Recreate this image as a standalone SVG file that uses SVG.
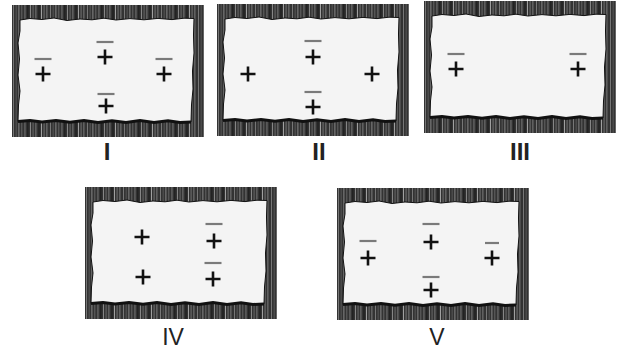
<svg xmlns="http://www.w3.org/2000/svg" width="624" height="355" viewBox="0 0 624 355">
<style>
.pl{stroke:#111;stroke-width:2.6;fill:none}
.mi{stroke:#7a7a7a;stroke-width:2.2}
.lb{font-family:"Liberation Sans",Arial,sans-serif;fill:#222;text-anchor:middle}
</style>
<defs>
<pattern id="wood" patternUnits="userSpaceOnUse" width="37" height="140">
<rect width="37" height="140" fill="#333"/>
<rect x="1" width="1" height="140" fill="#777"/>
<rect x="3.5" width="1.5" height="140" fill="#4a4a4a"/>
<rect x="6.5" width="0.8" height="140" fill="#999"/>
<rect x="9" width="1.4" height="140" fill="#555"/>
<rect x="12.5" width="0.9" height="140" fill="#7c7c7c"/>
<rect x="15" width="1.6" height="140" fill="#222"/>
<rect x="18" width="0.7" height="140" fill="#aaa"/>
<rect x="20.5" width="1.2" height="140" fill="#5e5e5e"/>
<rect x="23.5" width="0.8" height="140" fill="#888"/>
<rect x="26" width="2" height="140" fill="#252525"/>
<rect x="29" width="0.7" height="140" fill="#d0d0d0"/>
<rect x="31.5" width="1.2" height="140" fill="#666"/>
<rect x="34.5" width="0.8" height="140" fill="#8c8c8c"/>
</pattern>
<g id="board">
<rect x="0" y="0" width="192" height="132" fill="url(#wood)"/>
<path d="M8,15 L18,13.5 L30,14.5 L42,13 L55,15.5 L68,14 L80,14.8 L92,13.2 L104,15 L118,13.6 L132,14.8 L146,13.4 L160,14.6 L172,13.2 L182,13.5 L181.5,30 L182,48 L180.5,66 L181,84 L179.5,100 L179,117 L168,117.5 L156,115.8 L142,117.6 L128,115.6 L114,117.4 L100,115.8 L86,117.6 L72,115.6 L58,117.2 L44,115.5 L30,117 L18,115.4 L6,116.5 L6.5,100 L8,86 L6,70 L7.5,54 L6,38 L8,26 Z" fill="#f4f4f4" stroke="#111" stroke-width="1"/>
<path d="M6,116.5 L18,115.4 L30,117 L44,115.5 L58,117.2 L72,115.6 L86,117.6 L100,115.8 L114,117.4 L128,115.6 L142,117.6 L156,115.8 L168,117.5 L179,117" fill="none" stroke="#111" stroke-width="3"/>
</g>
<path id="p" class="pl" d="M-7.5,0 H7.5 M0,-7.5 V7.5"/>
<line id="m" class="mi" x1="-8.5" y1="0" x2="8.5" y2="0"/>
</defs>
<g id="panel-I">
<use href="#board" transform="translate(12,5)"/>
<use href="#m" x="43" y="59"/><use href="#p" x="43" y="74"/>
<use href="#m" x="105" y="42"/><use href="#p" x="105" y="57"/>
<use href="#m" x="164" y="59"/><use href="#p" x="164" y="74"/>
<use href="#m" x="106" y="94"/><use href="#p" x="106" y="106"/>
<text class="lb" x="107" y="160" font-size="24" font-weight="bold">I</text>
</g>
<g id="panel-II">
<use href="#board" transform="translate(217,4)"/>
<use href="#p" x="248" y="74"/>
<use href="#m" x="313" y="41"/><use href="#p" x="313" y="57"/>
<use href="#p" x="372" y="74"/>
<use href="#m" x="313" y="92"/><use href="#p" x="313" y="107"/>
<text class="lb" x="319" y="160" font-size="24" font-weight="bold">II</text>
</g>
<g id="panel-III">
<use href="#board" transform="translate(424,1)"/>
<use href="#m" x="456" y="54"/><use href="#p" x="456" y="69"/>
<use href="#m" x="578" y="54"/><use href="#p" x="578" y="69"/>
<text class="lb" x="520" y="160" font-size="24" font-weight="bold">III</text>
</g>
<g id="panel-IV">
<use href="#board" transform="translate(85,187)"/>
<use href="#p" x="142" y="237"/>
<use href="#p" x="143" y="277"/>
<use href="#m" x="214" y="224"/><use href="#p" x="214" y="241"/>
<use href="#m" x="213" y="263"/><use href="#p" x="213" y="279"/>
<text class="lb" x="173" y="345" font-size="23">IV</text>
</g>
<g id="panel-V">
<use href="#board" transform="translate(337,188)"/>
<use href="#m" x="368" y="241"/><use href="#p" x="368" y="258"/>
<use href="#m" x="431" y="224"/><use href="#p" x="431" y="242"/>
<line class="mi" x1="485" y1="243" x2="499" y2="243"/><use href="#p" x="492" y="258"/>
<use href="#m" x="431" y="277"/><use href="#p" x="431" y="290"/>
<text class="lb" x="437" y="345" font-size="23">V</text>
</g>
</svg>
